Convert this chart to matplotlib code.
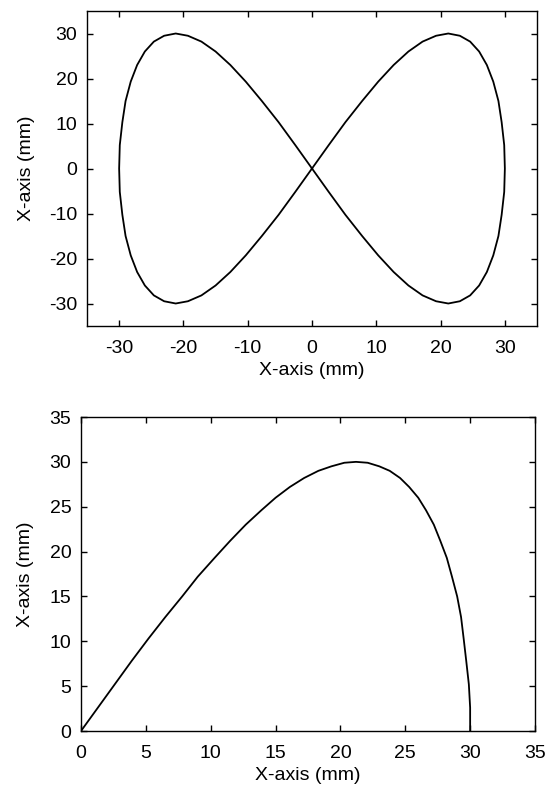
import matplotlib
matplotlib.use("Agg")
import matplotlib.pyplot as plt

plt.rcParams['font.family'] = ['Liberation Sans', 'DejaVu Sans']
plt.rcParams['axes.unicode_minus'] = False

# Figure-eight trajectory, closed loop
eight_x = [0.0, 2.6, 5.2, 7.8, 10.3, 12.7, 15.0, 17.2, 19.3, 21.2, 23.0, 24.6, 26.0, 27.2, 28.2, 29.0, 29.5, 29.9, 30.0,
           29.9, 29.5, 29.0, 28.2, 27.2, 26.0, 24.6, 23.0, 21.2, 19.3, 17.2, 15.0, 12.7, 10.3, 7.8, 5.2, 2.6, 0.0,
           -2.6, -5.2, -7.8, -10.3, -12.7, -15.0, -17.2, -19.3, -21.2, -23.0, -24.6, -26.0, -27.2, -28.2, -29.0, -29.5, -29.9, -30.0,
           -29.9, -29.5, -29.0, -28.2, -27.2, -26.0, -24.6, -23.0, -21.2, -19.3, -17.2, -15.0, -12.7, -10.3, -7.8, -5.2, -2.6, 0.0]
eight_y = [0.0, 5.2, 10.3, 15.0, 19.3, 23.0, 26.0, 28.2, 29.5, 30.0, 29.5, 28.2, 26.0, 23.0, 19.3, 15.0, 10.3, 5.2, 0.0,
           -5.2, -10.3, -15.0, -19.3, -23.0, -26.0, -28.2, -29.5, -30.0, -29.5, -28.2, -26.0, -23.0, -19.3, -15.0, -10.3, -5.2, 0.0,
           5.2, 10.3, 15.0, 19.3, 23.0, 26.0, 28.2, 29.5, 30.0, 29.5, 28.2, 26.0, 23.0, 19.3, 15.0, 10.3, 5.2, 0.0,
           -5.2, -10.3, -15.0, -19.3, -23.0, -26.0, -28.2, -29.5, -30.0, -29.5, -28.2, -26.0, -23.0, -19.3, -15.0, -10.3, -5.2, 0.0]

# Quarter trajectory
quad_x = [0.0, 1.3, 2.6, 3.9, 5.2, 6.5, 7.8, 9.0, 10.3, 11.5, 12.7, 13.9, 15.0, 16.1, 17.2, 18.3, 19.3, 20.3, 21.2,
          22.1, 23.0, 23.8, 24.6, 25.3, 26.0, 26.6, 27.2, 27.7, 28.2, 28.6, 29.0, 29.3, 29.5, 29.7, 29.9, 30.0, 30.0]
quad_y = [0.0, 2.6, 5.2, 7.8, 10.3, 12.7, 15.0, 17.2, 19.3, 21.2, 23.0, 24.6, 26.0, 27.2, 28.2, 29.0, 29.5, 29.9, 30.0,
          29.9, 29.5, 29.0, 28.2, 27.2, 26.0, 24.6, 23.0, 21.2, 19.3, 17.2, 15.0, 12.7, 10.3, 7.8, 5.2, 2.6, 0.0]

top_ticks = [-30, -20, -10, 0, 10, 20, 30]
bot_ticks = [0, 5, 10, 15, 20, 25, 30, 35]
label = "X-axis (mm)"

fig = plt.figure(figsize=(5.46, 7.95), dpi=100)
W, H = 546, 795
ax1 = fig.add_axes([87 / W, 1 - 326 / H, (537 - 87) / W, (326 - 11) / H])
ax2 = fig.add_axes([81 / W, 1 - 731 / H, (535 - 81) / W, (731 - 417) / H])

ax1.plot(eight_x, eight_y, color='black', lw=1.3)
ax1.set_xlim(-35, 35)
ax1.set_ylim(-35, 35)
ax1.set_xticks(top_ticks)
ax1.set_yticks(top_ticks)

ax2.plot(quad_x, quad_y, color='black', lw=1.3)
ax2.set_xlim(0, 35)
ax2.set_ylim(0, 35)
ax2.set_xticks(bot_ticks)
ax2.set_yticks(bot_ticks)

for ax, ylp in ((ax1, 10), (ax2, 11)):
    ax.set_xlabel(label, fontsize=14, labelpad=4)
    ax.set_ylabel(label, fontsize=14, labelpad=ylp)
    ax.tick_params(direction='in', length=4, width=1, labelsize=14, top=True, right=True)
    ax.tick_params(axis='x', pad=10)
    ax.tick_params(axis='y', pad=7)
    for s in ax.spines.values():
        s.set_linewidth(1.0)

fig.savefig("out.png", dpi=100)
